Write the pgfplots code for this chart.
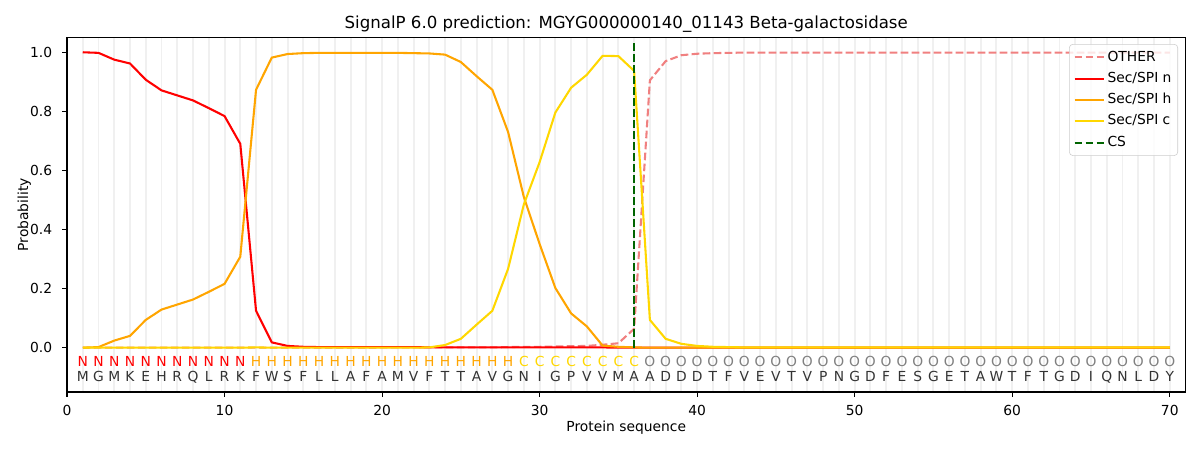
\documentclass[border=0pt]{standalone}
\usepackage{pgfplots}
\usepackage{pgfplotstable}
\pgfplotsset{compat=1.18}
\usepackage{fontspec}
\setmainfont{DejaVu Sans}
\definecolor{cother}{HTML}{F08080}
\definecolor{cn}{HTML}{FF0000}
\definecolor{ch}{HTML}{FFA500}
\definecolor{cc}{HTML}{FFD700}
\definecolor{ccs}{HTML}{006400}
\definecolor{cgrid}{HTML}{F0F0F0}
\definecolor{co}{HTML}{808080}
\definecolor{caa}{HTML}{333333}

\pgfplotstableread{
x other n h c
1 0.000 1.000 0.000 0.000
2 0.000 0.998 0.002 0.000
3 0.000 0.975 0.024 0.000
4 0.000 0.962 0.040 0.000
5 0.000 0.907 0.094 0.000
6 0.000 0.871 0.129 0.000
7 0.000 0.854 0.146 0.000
8 0.000 0.837 0.163 0.000
9 0.000 0.811 0.189 0.000
10 0.000 0.784 0.216 0.000
11 0.000 0.690 0.308 0.000
12 0.000 0.125 0.873 0.001
13 0.000 0.018 0.982 0.000
14 0.000 0.006 0.994 0.000
15 0.000 0.003 0.997 0.000
16 0.000 0.002 0.998 0.000
17 0.000 0.002 0.998 0.000
18 0.000 0.002 0.998 0.000
19 0.000 0.002 0.998 0.000
20 0.001 0.002 0.998 0.000
21 0.001 0.002 0.998 0.000
22 0.001 0.002 0.997 0.000
23 0.001 0.001 0.996 0.001
24 0.001 0.001 0.992 0.009
25 0.001 0.001 0.967 0.030
26 0.001 0.001 0.919 0.078
27 0.001 0.001 0.873 0.125
28 0.002 0.001 0.730 0.267
29 0.003 0.001 0.510 0.485
30 0.003 0.001 0.351 0.628
31 0.004 0.001 0.202 0.796
32 0.005 0.001 0.116 0.880
33 0.006 0.001 0.072 0.924
34 0.010 0.001 0.007 0.988
35 0.015 0.000 0.003 0.987
36 0.064 0.000 0.001 0.937
37 0.905 0.000 0.000 0.094
38 0.970 0.000 0.000 0.030
39 0.990 0.000 0.000 0.013
40 0.995 0.000 0.000 0.006
41 0.997 0.000 0.000 0.003
42 0.998 0.000 0.000 0.002
43 0.999 0.000 0.000 0.001
44 0.999 0.000 0.000 0.001
45 0.999 0.000 0.000 0.001
46 0.999 0.000 0.000 0.001
47 0.999 0.000 0.000 0.001
48 0.999 0.000 0.000 0.001
49 0.999 0.000 0.000 0.001
50 0.999 0.000 0.000 0.001
51 0.999 0.000 0.000 0.001
52 0.999 0.000 0.000 0.001
53 0.999 0.000 0.000 0.001
54 0.999 0.000 0.000 0.001
55 0.999 0.000 0.000 0.001
56 0.999 0.000 0.000 0.001
57 0.999 0.000 0.000 0.001
58 0.999 0.000 0.000 0.001
59 0.999 0.000 0.000 0.001
60 0.999 0.000 0.000 0.001
61 0.999 0.000 0.000 0.001
62 0.999 0.000 0.000 0.001
63 0.999 0.000 0.000 0.001
64 0.999 0.000 0.000 0.001
65 0.999 0.000 0.000 0.001
66 0.999 0.000 0.000 0.001
67 0.999 0.000 0.000 0.001
68 0.999 0.000 0.000 0.001
69 0.999 0.000 0.000 0.001
70 0.999 0.000 0.000 0.001
}\probs

\begin{document}
\begin{tikzpicture}
\useasboundingbox (0,0) rectangle (12in,4.5in);
\begin{axis}[
  at={(0.67in,0.58in)}, anchor=south west,
  scale only axis,
  width=11.185in, height=3.545in,
  xmin=0, xmax=71, ymin=-0.15, ymax=1.05,
  xtick={0,10,...,70},
  ytick={0,0.2,...,1.0},
  /pgf/number format/assume math mode=true,
  yticklabel style={/pgf/number format/fixed, /pgf/number format/fixed zerofill, /pgf/number format/precision=1},
  tick align=outside,
  major tick length=3.5pt,
  tick style={black, line width=0.8pt},
  xtick pos=bottom, ytick pos=left,
  axis line style={line width=0.8pt},
  every tick label/.append style={font=\fontsize{10}{12}\selectfont},
  xticklabel style={anchor=base, inner sep=0pt, yshift=-13.7pt},
  yticklabel style={anchor=east, inner sep=0pt, xshift=-7pt},
  extra x ticks={1,2,...,70},
  extra x tick labels={},
  extra x tick style={xmajorgrids=true, major tick length=0pt, tick style={draw=none}, major grid style={cgrid, line width=1.4pt, shorten <=0.5pt, shorten >=0.5pt}},
  title={SignalP 6.0 prediction: MGYG000000140\_01143 Beta-galactosidase},
  title style={at={(axis description cs:0.5,1)}, anchor=base, yshift=0.3pt, font=\fontsize{12}{14}\selectfont},
  xlabel={Protein sequence},
  xlabel style={at={(axis description cs:0.5,-0.112)}, anchor=base, font=\fontsize{10}{12}\selectfont},
  ylabel={Probability},
  ylabel style={at={(axis description cs:-0.0347,0.5)}, anchor=base, font=\fontsize{10}{12}\selectfont},
  legend style={at={(axis description cs:0.9933,0.9816)}, anchor=north east,
    draw=black!20, rounded corners=2.5pt, fill=white, fill opacity=0.8, text opacity=1,
    font=\fontsize{10}{12}\selectfont, inner xsep=3pt, inner ysep=3pt, row sep=2.6pt,
    nodes={inner sep=1.5pt, text height=7.6pt, text depth=2.2pt}},
  legend cell align=left,
  legend image code/.code={\draw[#1] (0pt,0pt) -- (21.6pt,0pt);},
  /tikz/every even column/.append style={column sep=3pt},
]
\addplot[cother, line width=1.5pt, dash pattern=on 5.55pt off 2.4pt] table[x=x, y=other] {\probs};
\addlegendentry{OTHER}
\addplot[cn, line width=1.5pt] table[x=x, y=n] {\probs};
\addlegendentry{Sec/SPI n}
\addplot[ch, line width=1.5pt] table[x=x, y=h] {\probs};
\addlegendentry{Sec/SPI h}
\addplot[cc, line width=1.5pt] table[x=x, y=c] {\probs};
\addlegendentry{Sec/SPI c}
\addplot[ccs, line width=1.5pt, dash pattern=on 5.55pt off 2.4pt] coordinates {(36,0) (36,1.037)};
\addlegendentry{CS}

\foreach \a [count=\i] in {M,G,M,K,E,H,R,Q,L,R,K,F,W,S,F,L,L,A,F,A,M,V,F,T,T,A,V,G,N,I,G,P,V,V,M,A,A,D,D,D,T,F,V,E,V,T,V,P,N,G,D,F,E,S,G,E,T,A,W,T,F,T,G,D,I,Q,N,L,D,Y} {
  \edef\tmp{\noexpand\node[anchor=base, inner sep=0pt, text=caa, font=\noexpand\fontsize{10}{12}\noexpand\selectfont] at (axis cs:\i,-0.115) {\a};}
  \tmp
}
\foreach \a/\col [count=\i] in {N/cn,N/cn,N/cn,N/cn,N/cn,N/cn,N/cn,N/cn,N/cn,N/cn,N/cn,H/ch,H/ch,H/ch,H/ch,H/ch,H/ch,H/ch,H/ch,H/ch,H/ch,H/ch,H/ch,H/ch,H/ch,H/ch,H/ch,H/ch,C/cc,C/cc,C/cc,C/cc,C/cc,C/cc,C/cc,C/cc,O/co,O/co,O/co,O/co,O/co,O/co,O/co,O/co,O/co,O/co,O/co,O/co,O/co,O/co,O/co,O/co,O/co,O/co,O/co,O/co,O/co,O/co,O/co,O/co,O/co,O/co,O/co,O/co,O/co,O/co,O/co,O/co,O/co,O/co} {
  \edef\tmp{\noexpand\node[anchor=base, inner sep=0pt, text=\col, font=\noexpand\fontsize{10}{12}\noexpand\selectfont] at (axis cs:\i,-0.064) {\a};}
  \tmp
}
\draw[line width=0.8pt] (rel axis cs:0,0) rectangle (rel axis cs:1,1);
\end{axis}
\end{tikzpicture}
\end{document}
